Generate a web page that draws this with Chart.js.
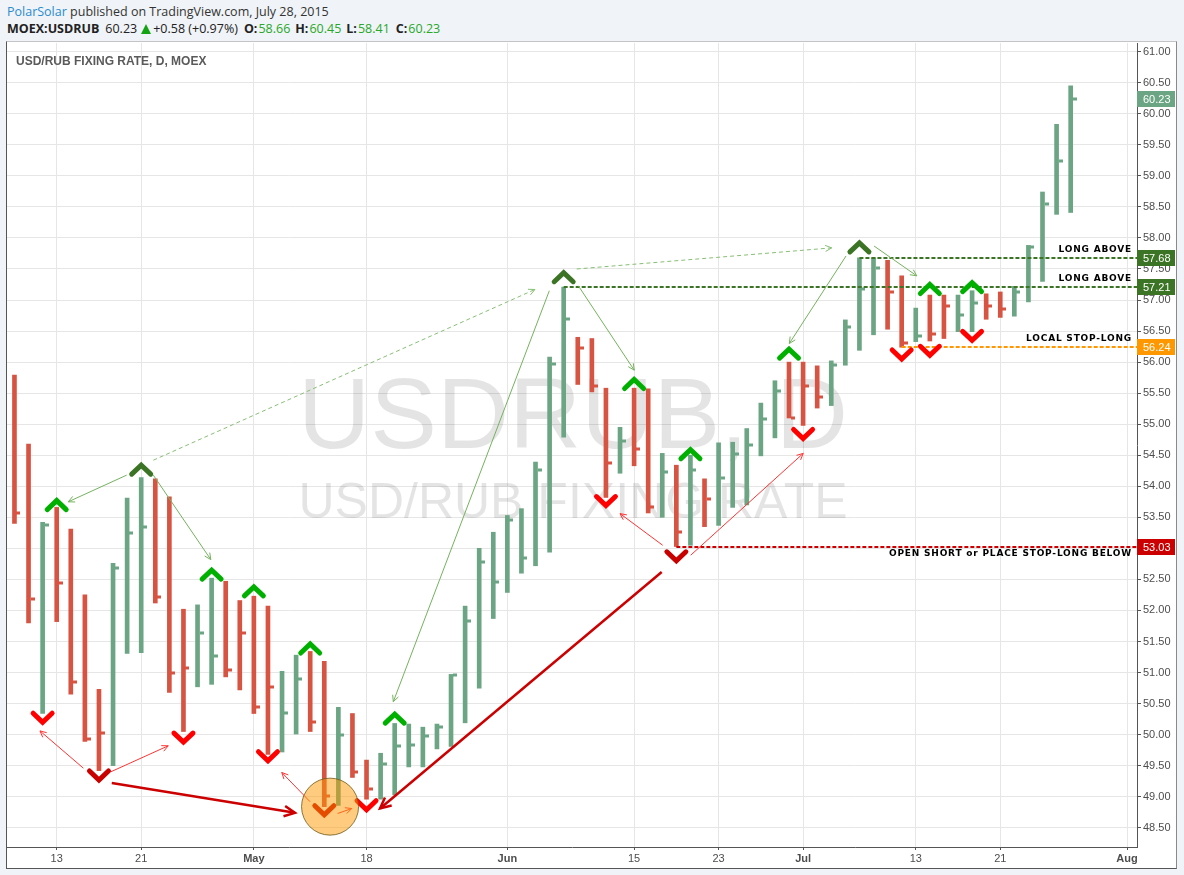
<!DOCTYPE html>
<html>
<head>
<meta charset="utf-8">
<script src="https://cdn.jsdelivr.net/npm/chart.js@4.4.0/dist/chart.umd.min.js"></script>
<style>
  body { margin: 0; background: #f0f3f7; width: 1184px; height: 875px; overflow: hidden; position: relative; font-family: "Open Sans", sans-serif; }
  #h1 { position: absolute; left: 7px; top: 3px; font-size: 12.5px; line-height: 18px; color: #333; white-space: nowrap; }
  #h1 .who { color: #2a8ccf; }
  #h2 { position: absolute; left: 7px; top: 20px; font-size: 12.5px; line-height: 18px; color: #222; white-space: nowrap; }
  #h2 span { display: inline-block; }
  #h2 .k { font-weight: 700; }
  #h2 .g { color: #28a828; }
  #h2 .tri { width: 0; height: 0; border-left: 5.5px solid transparent; border-right: 5.5px solid transparent; border-bottom: 10px solid #13a313; vertical-align: -1px; }
  #frame { position: absolute; left: 6px; top: 41px; width: 1169px; height: 826px; border: 1px solid #555; border-top-color: #c4c4c4; border-right-color: #8a8a8a; background: #fff; }
  #c { display: block; }
</style>
</head>
<body>
<div id="h1"><span class="who">PolarSolar</span> published on TradingView.com, July 28, 2015</div>
<div id="h2"><span class="k">MOEX:USDRUB</span><span id="last" style="margin-left:6px"></span><span class="tri" style="margin-left:4px"></span><span style="margin-left:2px">+0.58 (+0.97%)</span><span class="k" style="margin-left:6px">O:</span><span class="g" id="vo" style="margin-left:1px"></span><span class="k" style="margin-left:5px">H:</span><span class="g" id="vh" style="margin-left:1px"></span><span class="k" style="margin-left:5px">L:</span><span class="g" id="vl" style="margin-left:1px"></span><span class="k" style="margin-left:6px">C:</span><span class="g" id="vc" style="margin-left:1px"></span></div>
<div id="frame"><canvas id="c" width="1169" height="826"></canvas></div>
<script>
// trading days (MOEX), the last four are empty space up to Aug 3
const days = [
  '2015-04-08','2015-04-09','2015-04-10','2015-04-13','2015-04-14','2015-04-15','2015-04-16','2015-04-17',
  '2015-04-20','2015-04-21','2015-04-22','2015-04-23','2015-04-24','2015-04-27','2015-04-28','2015-04-29','2015-04-30',
  '2015-05-05','2015-05-06','2015-05-07','2015-05-08','2015-05-12','2015-05-13','2015-05-14','2015-05-15',
  '2015-05-18','2015-05-19','2015-05-20','2015-05-21','2015-05-22','2015-05-25','2015-05-26','2015-05-27','2015-05-28','2015-05-29',
  '2015-06-01','2015-06-02','2015-06-03','2015-06-04','2015-06-05','2015-06-08','2015-06-09','2015-06-10','2015-06-11',
  '2015-06-15','2015-06-16','2015-06-17','2015-06-18','2015-06-19','2015-06-22','2015-06-23','2015-06-24','2015-06-25','2015-06-26',
  '2015-06-29','2015-06-30','2015-07-01','2015-07-02','2015-07-03','2015-07-06','2015-07-07','2015-07-08','2015-07-09','2015-07-10',
  '2015-07-13','2015-07-14','2015-07-15','2015-07-16','2015-07-17','2015-07-20','2015-07-21','2015-07-22','2015-07-23','2015-07-24',
  '2015-07-27','2015-07-28','2015-07-29','2015-07-30','2015-07-31','2015-08-03'
];

const highs = [55.79,54.68,53.42,53.66,53.31,52.25,50.73,52.76,53.81,54.14,54.12,53.83,52.02,52.09,52.52,52.47,52.16,
  52.23,52.07,51.02,51.28,51.34,51.18,50.44,50.34,49.59,49.70,50.18,50.17,50.12,50.17,50.97,52.07,53.00,53.26,
  53.53,53.64,54.39,56.08,57.21,56.40,56.38,55.58,54.95,55.58,55.57,54.53,54.34,54.50,54.12,54.70,54.71,54.93,55.34,55.70,56.00,
  56.00,55.94,56.02,56.68,57.68,57.68,57.64,57.39,56.87,57.08,57.08,57.08,57.15,57.10,57.13,57.22,57.88,58.74,59.83,60.45];
const lows = [53.40,51.80,50.34,51.82,50.65,49.89,49.42,49.50,51.31,51.32,52.12,50.68,50.05,50.77,50.81,50.93,50.72,
  50.34,49.68,49.72,50.01,50.05,48.84,48.86,49.31,48.96,48.96,49.03,49.48,49.48,49.77,49.81,50.19,50.75,51.87,
  52.29,52.60,52.72,52.94,54.79,55.64,55.52,53.82,54.21,54.33,53.57,53.50,53.03,53.05,53.35,53.37,53.66,53.70,54.49,54.78,55.10,
  54.98,55.26,55.30,55.95,56.19,56.44,56.53,56.24,56.33,56.34,56.38,56.49,56.49,56.69,56.72,56.74,56.97,57.30,58.38,58.41];
const closes = [53.57,52.18,53.38,52.44,50.85,49.93,50.03,52.69,53.25,53.35,52.21,50.99,51.08,51.64,51.27,51.04,51.64,
  50.45,50.77,50.35,50.89,50.21,49.01,49.99,49.39,49.12,49.52,49.82,49.84,49.97,50.13,50.96,51.83,52.78,52.46,
  53.46,52.85,54.26,55.97,56.69,56.22,55.62,54.38,54.73,54.60,53.66,54.23,53.27,54.27,53.79,54.13,54.52,54.67,55.08,55.54,55.10,
  55.62,55.44,55.96,56.57,57.18,57.51,57.13,56.31,56.42,56.45,56.90,56.76,56.95,56.91,56.85,57.13,57.86,58.54,59.24,60.23];
// opens are not drawn (HLC bars); they only decide the bar colour
const opens = [55.70,53.57,52.18,53.38,52.44,50.85,50.60,50.03,52.69,52.00,53.35,52.21,51.90,51.08,51.00,51.27,52.00,
  51.64,51.90,49.90,50.35,50.89,50.21,49.01,49.99,49.39,49.12,49.52,49.60,49.84,49.97,50.13,50.96,51.83,51.95,
  52.46,52.65,52.85,54.26,55.97,56.38,56.22,55.62,54.38,54.73,54.60,53.66,54.23,53.27,54.05,53.79,54.13,54.52,54.67,55.08,55.54,
  55.95,55.62,55.44,55.96,56.57,57.18,57.51,57.13,56.35,57.00,57.05,56.55,56.76,57.05,57.05,56.85,57.13,57.86,58.54,58.66];

const xTickDays = ['2015-04-13','2015-04-21','2015-05-05','2015-05-18','2015-06-01','2015-06-15','2015-06-23','2015-07-01','2015-07-13','2015-07-21','2015-08-03'];
const xTickLabels = ['13','21','May','18','Jun','15','23','Jul','13','21','Aug'];
const yTicks = [48.5,49,49.5,50,50.5,51,51.5,52,52.5,53,53.5,54,54.5,55,55.5,56,56.5,57,57.5,58,58.5,59,59.5,60,60.5,61];

// swing markers drawn by the author: bar index, apex price, dark or light
const peakBars   = [3, 9, 14, 17, 21, 27, 39, 44, 48, 55, 60, 65, 68];
const peakPrices = [53.77, 54.34, 52.65, 52.38, 51.46, 50.33, 57.44, 55.72, 54.59, 56.21, 57.92, 57.25, 57.28];
const peakDark   = [0, 1, 0, 0, 0, 0, 1, 0, 0, 0, 1, 0, 0];
const troughBars   = [2, 6, 12, 18, 22, 25, 42, 47, 56, 63, 65, 68];
const troughPrices = [50.20, 49.27, 49.88, 49.58, 48.71, 48.79, 53.69, 52.80, 54.77, 56.05, 56.11, 56.35];
const troughDark   = [0, 1, 0, 0, 1, 0, 0, 1, 0, 0, 0, 0];

// arrows in (bar index, price) pairs: [x1, y1, x2, y2], head at the second point
const greenArrows = [[7.97,54.18,3.82,53.75],[9.86,54.18,13.94,52.82],[37.98,57.15,26.90,50.53],
  [40.04,57.23,44.01,55.87],[59.05,57.71,55.02,56.30],[61.04,57.87,64.07,57.39]];
const greenDashArrows = [[9.86,54.42,36.96,57.17],[39.92,57.50,58.03,57.84]];
const redArrows = [[4.89,49.46,1.81,50.06],[6.83,49.40,10.92,49.82],[20.99,48.92,18.98,49.39],
  [22.95,48.73,23.95,48.81],[46.03,53.05,43.00,53.56],[48.02,52.89,56.01,54.53]];
const redThickArrows = [[6.91,49.22,19.92,48.74],[45.96,52.62,25.96,48.81]];
const circleAt = [22.41, 48.84];

// horizontal levels
const levelPrices = [57.68, 57.21, 56.24, 53.03];
const levelFrom   = [60, 39, 63, 47];
const levelText   = ['LONG ABOVE', 'LONG ABOVE', 'LOCAL STOP-LONG', 'OPEN SHORT or PLACE STOP-LONG BELOW'];
const levelBelow  = [0, 0, 0, 1];
const levelColors = ['#3b7424', '#3b7424', '#ff9800', '#cc0000'];

const UP = '#6ba583', DOWN = '#d75442';
const n = closes.length;
const last = n - 1;
document.getElementById('last').textContent = closes[last].toFixed(2);
document.getElementById('vo').textContent = opens[last].toFixed(2);
document.getElementById('vh').textContent = highs[last].toFixed(2);
document.getElementById('vl').textContent = lows[last].toFixed(2);
document.getElementById('vc').textContent = closes[last].toFixed(2);

const barColors = closes.map((c, i) => c >= opens[i] ? UP : DOWN);
const xTickIdx = xTickDays.map(d => days.indexOf(d));
const months = ['May', 'Jun', 'Jul', 'Aug'];

function arrow(ctx, x1, y1, x2, y2, color, width, dash, head) {
  ctx.save();
  ctx.strokeStyle = color;
  ctx.lineWidth = width;
  ctx.setLineDash(dash);
  ctx.beginPath(); ctx.moveTo(x1, y1); ctx.lineTo(x2, y2); ctx.stroke();
  ctx.setLineDash([]);
  const a = Math.atan2(y2 - y1, x2 - x1);
  ctx.beginPath();
  ctx.moveTo(x2 - head * Math.cos(a - 0.45), y2 - head * Math.sin(a - 0.45));
  ctx.lineTo(x2, y2);
  ctx.lineTo(x2 - head * Math.cos(a + 0.45), y2 - head * Math.sin(a + 0.45));
  ctx.stroke();
  ctx.restore();
}

function chevron(ctx, x, y, up, color) {
  ctx.save();
  ctx.strokeStyle = color;
  ctx.lineWidth = 5;
  ctx.lineJoin = 'miter';
  ctx.lineCap = 'round';
  const d = up ? 9 : -9;
  ctx.beginPath(); ctx.moveTo(x - 9.5, y + d); ctx.lineTo(x, y); ctx.lineTo(x + 9.5, y + d); ctx.stroke();
  ctx.restore();
}

const drawings = {
  id: 'drawings',
  beforeDatasetsDraw(chart) {
    const ctx = chart.ctx, a = chart.chartArea;
    ctx.save();
    ctx.fillStyle = 'rgba(0,0,0,0.105)';
    ctx.textAlign = 'center';
    ctx.textBaseline = 'alphabetic';
    const cx = (a.left + a.right) / 2 + 1, cy = (a.top + a.bottom) / 2;
    ctx.font = '100px "Liberation Sans", Arial, sans-serif';
    ctx.fillText('USDRUB, D', cx, cy + 3);
    ctx.font = '50px "Liberation Sans", Arial, sans-serif';
    ctx.fillText('USD/RUB FIXING RATE', cx, cy + 73);
    ctx.restore();
  },
  afterDatasetsDraw(chart) {
    const ctx = chart.ctx, xs = chart.scales.x, ys = chart.scales.y, a = chart.chartArea;
    const X = v => xs.getPixelForValue(v), Y = v => ys.getPixelForValue(v);
    // close ticks
    ctx.save();
    for (let i = 0; i < n; i++) {
      ctx.fillStyle = barColors[i];
      ctx.fillRect(Math.round(X(i)) + 2, Math.round(Y(closes[i])) - 1.5, 4, 3);
    }
    ctx.restore();
    // levels
    levelPrices.forEach((p, k) => {
      ctx.save();
      ctx.strokeStyle = levelColors[k];
      ctx.lineWidth = 2;
      ctx.setLineDash([4, 2]);
      const y = Math.round(Y(p));
      ctx.beginPath(); ctx.moveTo(X(levelFrom[k]), y); ctx.lineTo(a.right, y); ctx.stroke();
      ctx.restore();
    });
    // arrows
    const P = r => [X(r[0]), Y(r[1]), X(r[2]), Y(r[3])];
    greenArrows.forEach(r => arrow(ctx, ...P(r), '#74b25e', 1, [], 7));
    greenDashArrows.forEach(r => arrow(ctx, ...P(r), '#86bf74', 1, [4, 3], 7));
    redArrows.forEach(r => arrow(ctx, ...P(r), '#ff3434', 1, [], 7));
    redThickArrows.forEach(r => arrow(ctx, ...P(r), '#cc0000', 2.5, [], 12));
    // chevrons
    peakBars.forEach((b, k) => chevron(ctx, X(b), Y(peakPrices[k]), true, peakDark[k] ? '#3b7424' : '#00b000'));
    troughBars.forEach((b, k) => chevron(ctx, X(b), Y(troughPrices[k]), false, troughDark[k] ? '#c80000' : '#ff0000'));
    // highlight circle
    ctx.save();
    ctx.fillStyle = 'rgba(255,152,0,0.5)';
    ctx.strokeStyle = 'rgba(110,90,20,0.8)';
    ctx.lineWidth = 1;
    ctx.beginPath(); ctx.arc(X(circleAt[0]), Y(circleAt[1]), 28.5, 0, Math.PI * 2); ctx.fill(); ctx.stroke();
    ctx.restore();
    // level captions
    ctx.save();
    ctx.fillStyle = '#000';
    ctx.font = 'bold 9px "DejaVu Sans", Verdana, sans-serif';
    ctx.letterSpacing = '0.8px';
    ctx.textAlign = 'right';
    levelPrices.forEach((p, k) => {
      const y = Y(p);
      ctx.textBaseline = levelBelow[k] ? 'top' : 'bottom';
      ctx.fillText(levelText[k], a.right - 5, levelBelow[k] ? y + 3 : y - 4);
    });
    ctx.restore();
  },
  afterDraw(chart) {
    const ctx = chart.ctx, ys = chart.scales.y, a = chart.chartArea;
    const tags = [[closes[last], UP]].concat(levelPrices.map((p, k) => [p, k < 2 ? '#3b7424' : levelColors[k]]));
    ctx.save();
    ctx.font = '11px "Liberation Sans", Arial, sans-serif';
    ctx.textBaseline = 'middle';
    tags.forEach(([p, col]) => {
      const y = Math.round(ys.getPixelForValue(p));
      ctx.fillStyle = col;
      ctx.fillRect(a.right, y - 8, chart.width - a.right - 1, 16);
      ctx.fillStyle = '#fff';
      ctx.fillText(p.toFixed(2), a.right + 6, y + 1);
    });
    ctx.fillStyle = '#5a5a5a';
    ctx.font = 'bold 12px "Liberation Sans", Arial, sans-serif';
    ctx.textBaseline = 'alphabetic';
    ctx.fillText('USD/RUB FIXING RATE, D, MOEX', a.left + 9, a.top + 22);
    ctx.restore();
  }
};

new Chart(document.getElementById('c'), {
  type: 'bar',
  data: {
    datasets: [{
      data: highs.map((h, i) => ({ x: i, y: [lows[i], h] })),
      backgroundColor: barColors,
      borderWidth: 0,
      barThickness: 4,
      grouped: false
    }]
  },
  options: {
    responsive: false,
    animation: false,
    layout: { padding: { top: 1, left: 0, right: 0, bottom: 0 } },
    plugins: { legend: { display: false }, tooltip: { enabled: false } },
    scales: {
      x: {
        type: 'linear',
        min: -0.53,
        max: 79.71,
        offset: false,
        grid: { color: '#e6e6e6', offset: false, tickColor: '#555', tickLength: 3 },
        border: { color: '#555' },
        afterBuildTicks: s => { s.ticks = xTickIdx.map(v => ({ value: v })); },
        afterFit: s => { s.height = 21; s.paddingLeft = 0; s.paddingRight = 0; },
        ticks: {
          autoSkip: false, maxRotation: 0, padding: 2, color: '#4d4d4d',
          font: c => ({ family: '"Liberation Sans", Arial, sans-serif', size: 11, weight: months.includes(xTickLabels[c.index]) ? 'bold' : 'normal' }),
          callback: (v, i) => xTickLabels[i]
        }
      },
      y: {
        position: 'right',
        min: 48.19,
        max: 61.14,
        grid: { color: '#e6e6e6', tickColor: '#555', tickLength: 4 },
        border: { color: '#555' },
        afterBuildTicks: s => { s.ticks = yTicks.map(v => ({ value: v })); },
        afterFit: s => { s.width = 39; s.paddingTop = 0; s.paddingBottom = 0; },
        ticks: {
          padding: 2, color: '#4d4d4d',
          font: { family: '"Liberation Sans", Arial, sans-serif', size: 11 },
          callback: v => v.toFixed(2)
        }
      }
    }
  },
  plugins: [drawings]
});
</script>
</body>
</html>
